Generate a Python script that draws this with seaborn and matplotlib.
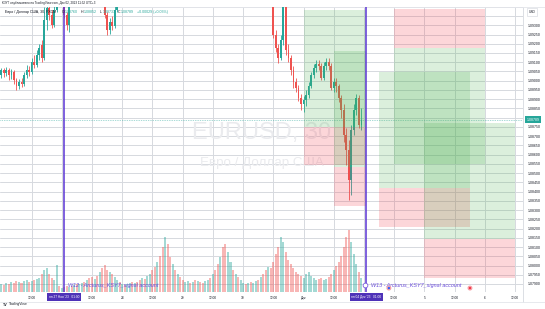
import matplotlib
matplotlib.use("Agg")
import matplotlib.pyplot as plt
import matplotlib.transforms as mtransforms
import numpy as np
import seaborn as sns

# ---------------- data ----------------
# hour index: 0 = Mon 27 Nov 2023 00:00 (UTC+3), weekend collapsed, 1 bar = 1 h
bar_hour = list(range(-24, -1)) + [1, 2, 3] + list(range(17, 23)) + list(range(84, 120))
bar_open = [1.09031, 1.09058, 1.09042, 1.09058, 1.09031, 1.09047, 1.09004, 1.08971, 1.08993, 1.08982,
            1.09031, 1.09058, 1.09047, 1.09101, 1.09085, 1.09139, 1.09193, 1.09123, 1.09329, 1.09394,
            1.09356, 1.09302, 1.09383,
            1.09464, 1.09356, 1.09302,
            1.09464, 1.09356, 1.09274, 1.09318, 1.09296, 1.09383,
            1.09464, 1.09247, 1.09177, 1.09123, 1.09220, 1.09410, 1.09166, 1.09123, 1.09058, 1.08993,
            1.08961, 1.08906, 1.08874, 1.08896, 1.08923, 1.08971, 1.09031, 1.09069, 1.09090, 1.09080,
            1.09015, 1.09080, 1.09101, 1.09080, 1.08961, 1.08993, 1.08971, 1.08906, 1.08842, 1.08706,
            1.08625, 1.08463, 1.08733, 1.08842, 1.08906, 1.08760]
bar_high = [1.09069, 1.09069, 1.09074, 1.09069, 1.09063, 1.09058, 1.09015, 1.09009, 1.09015, 1.09047,
            1.09085, 1.09080, 1.09123, 1.09139, 1.09166, 1.09199, 1.09220, 1.09399, 1.09464, 1.09464,
            1.09383, 1.09426, 1.09491,
            1.09491, 1.09372, 1.09464,
            1.09491, 1.09372, 1.09339, 1.09350, 1.09410, 1.09491,
            1.09491, 1.09274, 1.09199, 1.09247, 1.09464, 1.09426, 1.09199, 1.09139, 1.09080, 1.09015,
            1.08977, 1.08928, 1.08917, 1.08950, 1.08993, 1.09047, 1.09090, 1.09112, 1.09112, 1.09096,
            1.09101, 1.09123, 1.09123, 1.09096, 1.09015, 1.09015, 1.08982, 1.08923, 1.08874, 1.08744,
            1.08679, 1.08760, 1.08874, 1.08928, 1.08923, 1.08852]
bar_low = [1.09015, 1.09020, 1.09026, 1.09004, 1.09009, 1.08982, 1.08950, 1.08955, 1.08966, 1.08971,
           1.09015, 1.09026, 1.09036, 1.09069, 1.09074, 1.09112, 1.09101, 1.09112, 1.09274, 1.09329,
           1.09285, 1.09291, 1.09372,
           1.09339, 1.09274, 1.09264,
           1.09339, 1.09247, 1.09253, 1.09274, 1.09285, 1.09372,
           1.09231, 1.09155, 1.09096, 1.09112, 1.09193, 1.09139, 1.09101, 1.09031, 1.08961, 1.08939,
           1.08890, 1.08842, 1.08831, 1.08863, 1.08906, 1.08961, 1.09015, 1.09047, 1.09058, 1.09004,
           1.09004, 1.09058, 1.09058, 1.08950, 1.08939, 1.08939, 1.08885, 1.08798, 1.08668, 1.08544,
           1.08355, 1.08382, 1.08706, 1.08815, 1.08744, 1.08733]
bar_close = [1.09058, 1.09042, 1.09058, 1.09031, 1.09047, 1.09004, 1.08971, 1.08993, 1.08982, 1.09031,
             1.09058, 1.09047, 1.09101, 1.09085, 1.09139, 1.09177, 1.09123, 1.09329, 1.09394, 1.09356,
             1.09302, 1.09383, 1.09464,
             1.09356, 1.09302, 1.09437,
             1.09356, 1.09274, 1.09318, 1.09296, 1.09383, 1.09464,
             1.09247, 1.09177, 1.09123, 1.09220, 1.09410, 1.09166, 1.09123, 1.09058, 1.08993, 1.08961,
             1.08906, 1.08874, 1.08896, 1.08923, 1.08971, 1.09031, 1.09069, 1.09090, 1.09080, 1.09015,
             1.09080, 1.09101, 1.09080, 1.08961, 1.08993, 1.08971, 1.08906, 1.08842, 1.08706, 1.08625,
             1.08463, 1.08733, 1.08842, 1.08906, 1.08760, 1.08789]

vol_hour = list(range(-24, 120))
volume = [800, 700, 900, 800, 1000, 900, 1100, 1000, 900, 1100, 1200, 1000, 1100, 1200, 1300, 1400,
          1800, 2200, 2400, 1800, 1400, 1200, 2700, 600,
          400, 500, 600, 500, 600, 700, 800, 800, 900, 1000, 1200, 1400, 1500, 1300, 1600, 2000,
          2400, 2700, 2200, 2000, 1800, 1500, 1200, 1000,
          800, 700, 800, 900, 1000, 900, 1000, 1200, 1400, 1300, 1600, 1800, 2200, 2500, 3000, 3600,
          4500, 5500, 4800, 3500, 2800, 2200, 1800, 1500,
          1200, 1000, 1100, 900, 1000, 1200, 1100, 1000, 900, 1100, 1200, 1400, 1800, 2200, 2800, 3500,
          4500, 4800, 4000, 3000, 2200, 1800, 1500, 1200,
          900, 800, 900, 1000, 900, 1100, 1200, 1500, 1800, 2200, 2500, 2400, 3000, 3800, 4500, 5500,
          5000, 4000, 3200, 2800, 2400, 2000, 1800, 1600,
          1400, 1800, 2000, 1600, 1400, 1200, 1300, 1400, 1200, 1300, 1500, 1800, 2200, 2600, 3000, 3600,
          4500, 5500, 6200, 5000, 3800, 2800, 2000, 1400]
vol_up = [1, 0, 1, 0, 1, 0, 0, 1, 0, 1, 1, 0, 1, 0, 1, 1, 0, 1, 1, 0, 0, 1, 1, 0,
          1, 0, 0, 1, 0, 1, 0, 1, 1, 0, 1, 0, 0, 1, 0, 1, 0, 0, 0, 1, 0, 1, 1, 0,
          1, 0, 1, 1, 0, 1, 0, 0, 1, 0, 1, 1, 0, 0, 1, 0, 0, 1, 0, 0, 1, 0, 1, 0,
          0, 1, 1, 0, 1, 0, 1, 0, 0, 1, 1, 0, 1, 0, 0, 1, 0, 0, 1, 1, 0, 1, 0, 1,
          1, 0, 1, 0, 1, 1, 0, 1, 0, 0, 1, 0, 0, 0, 0, 1, 1, 0, 0, 0, 0, 0, 0, 0,
          1, 1, 1, 1, 1, 1, 0, 0, 1, 1, 0, 0, 1, 0, 0, 0, 0, 0, 0, 1, 1, 1, 0, 1]

last_price = 1.08789

# position tools: (start hour, end hour, entry, target, stop)
pos_start = [96, 108, 126, 144, 132]
pos_end = [121, 121, 162, 180, 168]
pos_entry = [1.08750, 1.08533, 1.08419, 1.08144, 1.09177]
pos_target = [1.09383, 1.09161, 1.09047, 1.08771, 1.08549]
pos_stop = [1.08544, 1.08322, 1.08208, 1.07932, 1.09388]

week_hours = [1, 121]
week_labels = ["W12 - Arcturus_KSY7_signal account", "W13 - Arcturus_KSY7_signal account"]
week_dates = ["пн 27 Ноя '23   01:00", "пн 04 Дек '23   01:00"]

time_tick_hours = [-12, 12, 24, 36, 48, 60, 72, 84, 96, 108, 132, 144, 156, 168, 180]
time_tick_labels = ["12:00", "12:00", "28", "12:00", "29", "12:00", "30", "12:00", "Дек", "12:00",
                    "12:00", "5", "12:00", "6", "12:00"]

event_hours = [129.9, 162.1]
event_kind = ["blue", "red"]

# ---------------- style ----------------
sns.set_theme(style="white")
plt.rcParams['font.family'] = ['Liberation Sans', 'DejaVu Sans']

UP, DOWN = '#26a69a', '#ef5350'
PURPLE = '#5b36d4'
GRID = '#d6d9df'
TXT = '#131722'

W, H = 545, 309
fig = plt.figure(figsize=(W / 100, H / 100), dpi=100)
fig.patch.set_facecolor('white')

pl, pr, pt, pb = 0, 523, 7, 292
rect = [pl / W, 1 - pb / H, (pr - pl) / W, (pb - pt) / H]
xlim = (-24.54, 183.16)
ylim = (1.078567, 1.093989)

ax0 = fig.add_axes(rect)   # grid / labels / watermark
ax2 = fig.add_axes(rect)   # volume
ax = fig.add_axes(rect)    # price
for a in (ax0, ax2, ax):
    a.set_xlim(*xlim)
    for s in a.spines.values():
        s.set_visible(False)
ax0.set_ylim(*ylim)
ax.set_ylim(*ylim)
ax0.set_zorder(0)
ax2.set_zorder(1)
ax.set_zorder(2)
ax2.patch.set_visible(False)
ax.patch.set_visible(False)
ax0.set_facecolor('white')

# grid
price_ticks = np.round(np.arange(1.0790, 1.09401, 0.0005), 4)
for p in price_ticks:
    ax0.axhline(p, color=GRID, lw=0.7, zorder=0)
for hgrid in range(-12, 181, 12):
    ax0.axvline(hgrid, color=GRID, lw=0.7, zorder=0)

# price axis labels (right)
lab_ticks = [p for p in price_ticks if p <= 1.0930]
ax0.yaxis.tick_right()
ax0.set_yticks(lab_ticks)
ax0.set_yticklabels(["" if abs(p - 1.0880) < 1e-6 else f"{p:.5f}" for p in lab_ticks])
ax0.tick_params(axis='y', length=0, pad=3.2, labelsize=2.5, labelcolor=TXT)

# time axis labels
ax0.set_xticks(time_tick_hours)
ax0.set_xticklabels(time_tick_labels)
ax0.tick_params(axis='x', length=0, pad=2.6, labelsize=2.3, labelcolor=TXT)
for a in (ax, ax2):
    a.set_xticks([])
    a.set_yticks([])

# watermark
ax0.text(0.5, 0.558, "EURUSD, 30", transform=ax0.transAxes, ha='center', va='center',
         fontsize=17, color='#eaebee', zorder=1)
ax0.text(0.5, 0.453, "Евро / Доллар США", transform=ax0.transAxes, ha='center', va='center',
         fontsize=9.6, color='#eaebee', zorder=1)

# volume
vmax = max(volume)
ax2.set_ylim(0, vmax * 4.6)
ax2.bar(vol_hour, volume, width=0.8,
        color=[UP if u else DOWN for u in vol_up], alpha=0.42, linewidth=0)

# candles
cols = [UP if c >= o else DOWN for o, c in zip(bar_open, bar_close)]
ax.vlines(bar_hour, bar_low, bar_high, colors=cols, lw=0.6, zorder=3)
bodies = [max(abs(c - o), 0.00003) for o, c in zip(bar_open, bar_close)]
ax.bar(bar_hour, bodies, bottom=[min(o, c) for o, c in zip(bar_open, bar_close)],
       width=0.72, color=cols, linewidth=0, zorder=4)

# last price line
ax.axhline(last_price, color=UP, lw=0.5, ls=(0, (1, 1.5)), alpha=0.8, zorder=3)

# position tools
for s, e, en, tp, sl in zip(pos_start, pos_end, pos_entry, pos_target, pos_stop):
    ax.fill_between([s, e], en, tp, color='#4caf50', alpha=0.2, lw=0, zorder=5)
    ax.fill_between([s, e], en, sl, color='#f23645', alpha=0.2, lw=0, zorder=5)

# week lines and labels
blend_ax = mtransforms.blended_transform_factory(ax.transData, ax.transAxes)
blend0 = mtransforms.blended_transform_factory(ax0.transData, ax0.transAxes)
for wh, wl, wd in zip(week_hours, week_labels, week_dates):
    ax.axvline(wh, color=PURPLE, lw=1.1, zorder=6)
    ax.text(wh + 1.6, 0.0245, wl, transform=blend_ax, ha='left', va='center', fontsize=3.9,
            style='italic', color='#6a4cdc', zorder=7)
    ax0.text(wh, -0.0175, wd, transform=blend0, ha='center', va='center', fontsize=2.3,
             color='white', clip_on=False, zorder=8,
             bbox=dict(boxstyle='square,pad=0.55', fc='#4e32b8', ec='none'))

# circle marker near W13 line
ax.plot([week_hours[1] - 0.4], [0.023], marker='o', ms=3.4, mfc='white', mec='#7b5be0', mew=0.6,
        transform=blend_ax, zorder=8, clip_on=False)

# event markers
ev_y = 1.07878
sns.scatterplot(x=event_hours, y=[ev_y] * len(event_hours), hue=event_kind,
                palette={"blue": '#2962ff', "red": '#f23645'}, s=7, edgecolor='#f7a1a8',
                linewidth=0.9, legend=False, ax=ax, zorder=8, clip_on=False)
ax.set_xlim(*xlim)
ax.set_ylim(*ylim)

# current price label
blend_y = mtransforms.blended_transform_factory(ax0.transAxes, ax0.transData)
ax0.text(1.0 + 3.5 / 523, last_price, f"{last_price:.5f}", transform=blend_y, ha='left',
         va='center', fontsize=2.5, color='white', clip_on=False, zorder=9,
         bbox=dict(boxstyle='square,pad=0.45', fc=UP, ec='none'))

# USD label
fig.text(529 / W, 1 - 12 / H, "USD", fontsize=2.3, color=TXT, ha='left', va='center',
         bbox=dict(boxstyle='square,pad=0.5', fc='white', ec='#d1d4dc', lw=0.4))

# frame lines
fig.add_artist(plt.Line2D([pr / W, pr / W], [1 - 302 / H, 1 - pt / H], color='#d6d9df', lw=0.6))
fig.add_artist(plt.Line2D([0, 1], [1 - 302 / H, 1 - 302 / H], color='#e3e5ea', lw=0.6))
fig.add_artist(plt.Line2D([0, 1], [1 - pt / H, 1 - pt / H], color='#e3e5ea', lw=0.6))

# header texts
fig.text(2 / W, 1 - 3 / H, "K3Y7 опубликовано на TradingView.com, Дек 02, 2023 11:32 UTC+3",
         fontsize=2.2, color=TXT, ha='left', va='center')
fig.text(5 / W, 1 - 12 / H, "Евро / Доллар США, 30, FXCM", fontsize=2.6, color=TXT,
         ha='left', va='center', zorder=10)
legend_items = [("O", "1.08760", 62), ("H", "1.08852", 81), ("L", "1.08733", 100),
                ("C", "1.08789", 118)]
for letter, val, xp in legend_items:
    fig.text(xp / W, 1 - 12 / H, letter, fontsize=2.6, color=TXT, ha='left', va='center', zorder=10)
    fig.text((xp + 3) / W, 1 - 12 / H, val, fontsize=2.6, color=UP, ha='left', va='center', zorder=10)
fig.text(137 / W, 1 - 12 / H, "+0.00029 (+0.03%)", fontsize=2.6, color=UP, ha='left',
         va='center', zorder=10)

# footer logo
fig.text(3 / W, 1 - 304.5 / H, "TV", fontsize=2.6, fontweight='bold', color=TXT, ha='left', va='center')
fig.text(9 / W, 1 - 304.5 / H, "TradingView", fontsize=2.4, color=TXT, ha='left', va='center')

fig.savefig("out.png", dpi=100, facecolor='white')
